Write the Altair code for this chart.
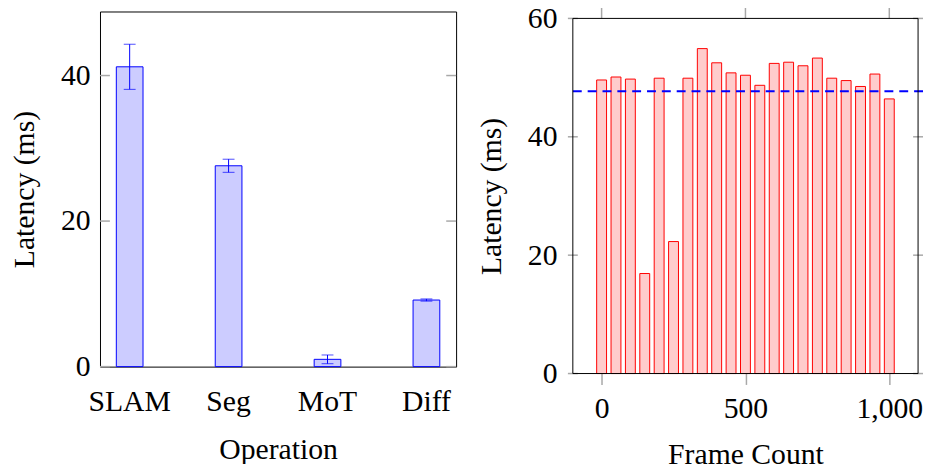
import altair as alt
import pandas as pd

# ---------------- data ----------------
operations = ["SLAM", "Seg", "MoT", "Diff"]
op_latency = [41.2, 27.6, 1.0, 9.15]
op_error = [3.1, 0.9, 0.6, 0.15]

frames = [0, 50, 100, 150, 200, 250, 300, 350, 400, 450, 500,
          550, 600, 650, 700, 750, 800, 850, 900, 950, 1000]
frame_latency = [49.6, 50.1, 49.75, 16.9, 49.9, 22.3, 49.9, 54.9, 52.5, 50.8, 50.4,
                 48.7, 52.4, 52.6, 52.0, 53.3, 49.9, 49.5, 48.5, 50.6, 46.4]
mean_latency = [47.7]

left_y_domain = [0, 48.8]
left_y_ticks = [0, 20, 40]
right_y_domain = [0, 60]
right_y_ticks = [0, 20, 40, 60]
right_x_domain = [-100, 1100]
right_x_ticks = [0, 500, 1000]

FONT = "Liberation Serif"
FS = 30
TICK_COLOR = "#a8a8a8"

# ---------------- left chart ----------------
ops_df = pd.DataFrame({"op": operations, "lat": op_latency, "err": op_error})
xs_l = alt.Scale(domain=operations, paddingInner=0.73, paddingOuter=0.165)
ys_l = alt.Scale(domain=left_y_domain, nice=False, zero=True)

x_l = alt.X("op:N", scale=xs_l, sort=operations, title="Operation",
            axis=alt.Axis(labelAngle=0, ticks=False, tickSize=0, labelPadding=20,
                          titlePadding=19))
y_title = "Latency (ms)"

bars_l = alt.Chart(ops_df).mark_bar(fill="#ccccff", stroke="#0000ff", strokeWidth=1).encode(
    x=x_l,
    y=alt.Y("lat:Q", scale=ys_l, title=y_title,
            axis=alt.Axis(values=left_y_ticks, ticks=False, tickSize=0,
                          labelPadding=10, titlePadding=21)),
)
err_base = alt.Chart(ops_df).transform_calculate(
    lo="datum.lat - datum.err", hi="datum.lat + datum.err")
err_line = err_base.mark_rule(color="#0000ff", strokeWidth=1).encode(
    x=x_l, y=alt.Y("lo:Q", scale=ys_l, title=y_title), y2="hi:Q")
cap_lo = err_base.mark_tick(color="#0000ff", size=12, thickness=1).encode(
    x=x_l, y=alt.Y("lo:Q", scale=ys_l, title=y_title))
cap_hi = err_base.mark_tick(color="#0000ff", size=12, thickness=1).encode(
    x=x_l, y=alt.Y("hi:Q", scale=ys_l, title=y_title))

lt_df = pd.DataFrame({"v": left_y_ticks})
ticks_l_left = alt.Chart(lt_df).mark_rule(color=TICK_COLOR, strokeWidth=1.5).encode(
    y=alt.Y("v:Q", scale=ys_l, title=y_title), x=alt.value(0), x2=alt.value(10))
ticks_l_right = alt.Chart(lt_df).mark_rule(color=TICK_COLOR, strokeWidth=1.5).encode(
    y=alt.Y("v:Q", scale=ys_l, title=y_title), x=alt.value(350), x2=alt.value(360))

left = alt.layer(ticks_l_left, ticks_l_right, bars_l, err_line, cap_lo, cap_hi).properties(
    width=360, height=359, view=alt.ViewBackground(stroke="black", strokeWidth=1))

# ---------------- right chart ----------------
# the right panel's frame sits 7px lower than the left one
fr_df = pd.DataFrame({"frame": frames, "lat": frame_latency})
xs_r = alt.Scale(domain=right_x_domain, nice=False, zero=False)
ys_r = alt.Scale(domain=right_y_domain, nice=False, range=[366, 7])
x_title = "Frame Count"

bars_r = alt.Chart(fr_df).mark_bar(size=10, fill="#ffcccc", stroke="#ff0000",
                                   strokeWidth=1, orient="vertical").encode(
    x=alt.X("frame:Q", scale=xs_r, title=x_title,
            axis=alt.Axis(values=right_x_ticks, format=",d", tickSize=11, tickColor=TICK_COLOR,
                          tickWidth=1.5, labelPadding=9, titlePadding=17, labelFlush=False)),
    y=alt.Y("lat:Q", scale=ys_r, title=y_title,
            axis=alt.Axis(values=right_y_ticks, ticks=False, tickSize=0,
                          labelPadding=11, titlePadding=21)),
)
mean_rule = alt.Chart(pd.DataFrame({"m": mean_latency})).mark_rule(
    color="#0000ff", strokeWidth=2, strokeDash=[9, 6]).encode(
    y=alt.Y("m:Q", scale=ys_r, title=y_title))

ry_df = pd.DataFrame({"v": right_y_ticks})
ticks_r_left = alt.Chart(ry_df).mark_rule(color=TICK_COLOR, strokeWidth=1.5).encode(
    y=alt.Y("v:Q", scale=ys_r, title=y_title), x=alt.value(0), x2=alt.value(10))
ticks_r_right = alt.Chart(ry_df).mark_rule(color=TICK_COLOR, strokeWidth=1.5).encode(
    y=alt.Y("v:Q", scale=ys_r, title=y_title), x=alt.value(349), x2=alt.value(359))
ticks_r_top = alt.Chart(pd.DataFrame({"t": right_x_ticks})).mark_rule(
    color=TICK_COLOR, strokeWidth=1.5, y2Offset=-11).encode(
    x=alt.X("t:Q", scale=xs_r, title=x_title),
    y=alt.datum(right_y_domain[1]), y2=alt.datum(right_y_domain[1]))
frame_r = alt.Chart(pd.DataFrame({"v": [0]})).mark_rect(
    fillOpacity=0, stroke="black", strokeWidth=1).encode(
    x=alt.datum(right_x_domain[0]), x2=alt.datum(right_x_domain[1]),
    y=alt.datum(right_y_domain[0]), y2=alt.datum(right_y_domain[1]))

right = alt.layer(ticks_r_left, ticks_r_right, ticks_r_top, bars_r, mean_rule, frame_r).properties(
    width=359, height=366)

chart = alt.hconcat(left, right, spacing=19).properties(
    padding={"left": 1, "top": -7, "right": 0, "bottom": 0}
).configure_view(stroke=None).configure_axis(
    labelFont=FONT, labelFontSize=FS, labelColor="black",
    titleFont=FONT, titleFontSize=FS, titleColor="black", titleFontWeight="normal",
    grid=False, domain=False,
)

chart.save("out.html", embed_options={"renderer": "svg", "actions": False})
